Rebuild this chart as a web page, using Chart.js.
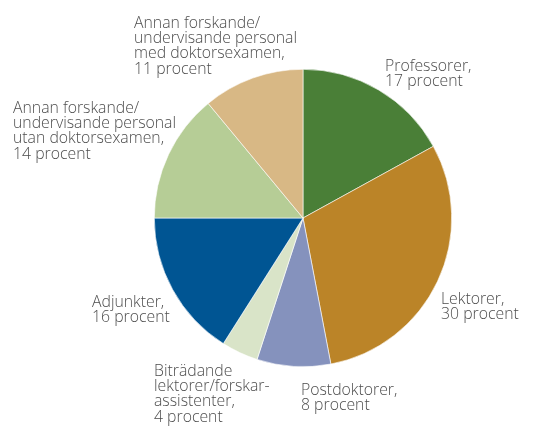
<!DOCTYPE html>
<html>
<head>
<meta charset="utf-8">
<script src="https://cdn.jsdelivr.net/npm/chart.js@4/dist/chart.umd.min.js"></script>
<style>
  html, body { margin: 0; padding: 0; background: #fff; }
  #wrap { width: 534px; height: 426px; position: relative; }
</style>
</head>
<body>
<div id="wrap"><canvas id="myPie" width="534" height="426"></canvas></div>
<script>
// categories, clockwise from 12 o'clock
const categories = [
  'Professorer',
  'Lektorer',
  'Postdoktorer',
  'Biträdande lektorer/forskarassistenter',
  'Adjunkter',
  'Annan forskande/undervisande personal utan doktorsexamen',
  'Annan forskande/undervisande personal med doktorsexamen'
];
const shares = [17, 30, 8, 4, 16, 14, 11];
// label text as broken in the picture
const labelLines = [
  ['Professorer,', '17 procent'],
  ['Lektorer,', '30 procent'],
  ['Postdoktorer,', '8 procent'],
  ['Biträdande', 'lektorer/forskar-', 'assistenter,', '4 procent'],
  ['Adjunkter,', '16 procent'],
  ['Annan forskande/', 'undervisande personal', 'utan doktorsexamen,', '14 procent'],
  ['Annan forskande/', 'undervisande personal', 'med doktorsexamen,', '11 procent']
];
const colors = ['#4a7f37', '#bb8428', '#8592bd', '#d9e4c8', '#005593', '#b6cd96', '#d8b885'];

// where each label block starts (left x, first baseline)
const labelPos = [
  [385, 71], [441, 304], [301, 395], [154, 376], [92, 307], [13, 113], [134, 28]
];

const pieLabels = {
  id: 'pieLabels',
  afterDraw(chart) {
    const ctx = chart.ctx;
    ctx.save();
    ctx.font = '300 15.8px "Open Sans", sans-serif';
    ctx.fillStyle = '#4d4d4d';
    ctx.textAlign = 'left';
    ctx.textBaseline = 'alphabetic';
    labelLines.forEach((lines, i) => {
      const [x, y] = labelPos[i];
      lines.forEach((t, j) => ctx.fillText(t, x, y + j * 15.2));
    });
    ctx.restore();
  }
};

new Chart(document.getElementById('myPie'), {
  type: 'pie',
  data: {
    labels: categories,
    datasets: [{
      data: shares,
      backgroundColor: colors,
      borderColor: '#ffffff',
      borderWidth: 0.6
    }]
  },
  options: {
    responsive: false,
    animation: false,
    layout: { padding: { left: 154, right: 82, top: 69, bottom: 59 } },
    plugins: {
      legend: { display: false },
      tooltip: { enabled: false }
    }
  },
  plugins: [pieLabels]
});
</script>
</body>
</html>
